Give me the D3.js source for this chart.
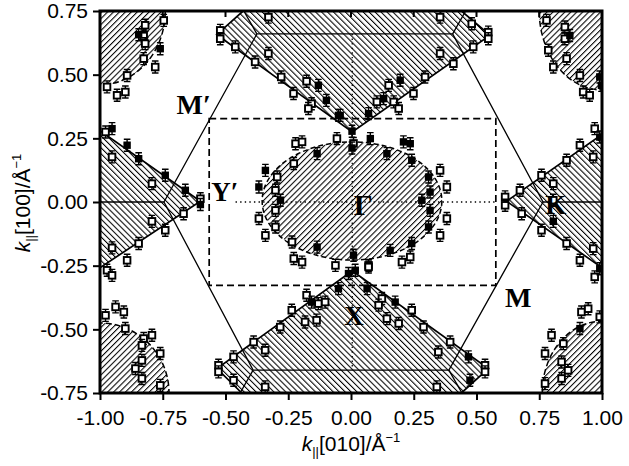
<!DOCTYPE html>
<html><head><meta charset="utf-8">
<script src="https://cdn.jsdelivr.net/npm/d3@7"></script>
<style>body{margin:0;background:#fff}svg{display:block}</style>
</head><body>
<svg id="c" width="629" height="466"></svg>
<script>
// ---- data (k-space, 1/Å) ----
const xTicks = [-1, -0.75, -0.5, -0.25, 0, 0.25, 0.5, 0.75, 1];
const yTicks = [-0.75, -0.5, -0.25, 0, 0.25, 0.5, 0.75];

// surface Brillouin-zone hexagon and outgoing edges
const hexagon = [[-0.375,0.66],[0.405,0.66],[0.765,0],[0.39,-0.66],[-0.39,-0.66],[-0.745,0]];
const hexSpurs = [
  [[-0.375,0.66],[-0.427,0.75]], [[0.405,0.66],[0.457,0.75]],
  [[0.765,0],[1,0]], [[-0.745,0],[-1,0]],
  [[-0.39,-0.66],[-0.442,-0.75]], [[0.39,-0.66],[0.442,-0.75]]
];
const dashRect = [[-0.565,0.327],[0.577,-0.327]];
const dotLines = [[[-0.46,0],[0.577,0]], [[0.005,0.66],[0.005,-0.66]]];

// hatched Fermi-surface regions
const topRegion = [[-0.43,0.75],[-0.535,0.657],[0.005,0.275],[0.554,0.655],[0.44,0.75]];
const bottomRegion = [[-0.435,-0.75],[-0.534,-0.654],[0.005,-0.27],[0.547,-0.654],[0.44,-0.75]];
const leftRegion = [[-1,0.28],[-0.60,0.003],[-1,-0.258]];
const rightRegion = [[1,0.265],[0.62,0.003],[1,-0.258]];
const centerEllipse = {cx:0.004, cy:0.004, rx:0.358, ry:0.232};
const cornerEllipses = [
  {cx:-1, cy:0.75, rx:0.26, ry:0.29},
  {cx:1, cy:0.75, rx:0.25, ry:0.31},
  {cx:-1, cy:-0.75, rx:0.275, ry:0.275},
  {cx:1, cy:-0.75, rx:0.238, ry:0.282}
];

// measured points
const openPts = [
  [-0.746,0.713],[-0.82,0.694],[-0.826,0.652],[-0.82,0.622],[-0.826,0.563],[-0.78,0.53],[-0.892,0.497],[-0.972,0.452],[-0.932,0.419],[-0.899,0.432],
  [-0.521,0.674],[-0.521,0.641],[-0.461,0.609],[-0.382,0.55],[-0.329,0.583],[-0.278,0.491],[-0.229,0.426],[-0.177,0.474],[-0.157,0.386],[-0.17,0.367],[-0.329,0.726],
  [0.355,0.726],[0.481,0.70],[0.547,0.667],[0.547,0.641],[0.487,0.609],[0.355,0.583],[0.408,0.543],[0.295,0.491],[0.249,0.426],[0.15,0.458],[0.103,0.393],[0.17,0.393],[0.19,0.367],
  [0.779,0.713],[0.852,0.687],[0.852,0.641],[0.786,0.596],[0.859,0.563],[0.806,0.53],[0.912,0.497],[0.925,0.432],[0.951,0.419],[0.971,0.288],
  [-0.978,0.275],[-0.952,0.177],[-0.793,0.072],[-0.60,0.013],[-0.667,-0.046],[-0.793,-0.076],[-0.74,-0.111],[-0.846,-0.163],[-0.952,-0.18],[-0.892,-0.229],[-0.972,-0.268],[-0.952,-0.288],
  [-0.221,0.229],[-0.195,0.236],[-0.228,0.151],[-0.056,0.249],[0.01,0.23],[0.355,0.124],[0.382,0.059],[0.382,-0.065],[0.355,-0.131],[0.236,-0.216],[0.203,-0.236],[0.07,-0.249],[-0.062,-0.249],
  [-0.228,-0.222],[-0.195,-0.236],[-0.235,-0.157],[-0.301,-0.098],[-0.341,-0.131],[-0.367,-0.065],[-0.301,-0.033],[-0.301,0.046],[-0.294,0.098],
  [0.912,0.223],[0.965,0.177],[0.859,0.164],[0.759,0.105],[0.806,0.072],[0.673,0.046],[0.614,0.02],[0.614,-0.013],[0.806,0.007],[0.68,-0.046],[0.759,-0.111],[0.859,-0.163],[0.965,-0.183],[0.912,-0.229],[0.971,-0.294],
  [-0.978,-0.445],[-0.938,-0.412],[-0.905,-0.432],[-0.899,-0.497],[-0.826,-0.536],[-0.793,-0.523],[-0.833,-0.563],[-0.76,-0.595],[-0.833,-0.622],[-0.859,-0.654],[-0.833,-0.693],[-0.76,-0.72],
  [-0.528,-0.641],[-0.528,-0.667],[-0.468,-0.608],[-0.468,-0.70],[-0.388,-0.55],[-0.342,-0.582],[-0.342,-0.726],[-0.282,-0.491],[-0.236,-0.425],[-0.177,-0.366],[-0.13,-0.399],[-0.103,-0.393],[-0.183,-0.471],[-0.137,-0.464],
  [0.07,-0.255],[0.123,-0.379],[0.11,-0.405],[0.143,-0.458],[0.19,-0.477],[0.242,-0.425],[0.289,-0.491],[0.395,-0.55],[0.348,-0.589],[0.534,-0.641],[0.534,-0.667],[0.342,-0.726],
  [0.918,-0.432],[0.945,-0.419],[0.991,-0.451],[0.799,-0.523],[0.846,-0.556],[0.773,-0.595],[0.839,-0.628],[0.865,-0.661],[0.839,-0.693],[0.773,-0.713]
];
const filledPts = [
  [-0.846,0.657],[-0.76,0.602],
  [-0.13,0.458],[-0.098,0.399],[-0.05,0.34],[0.196,0.478],[0.13,0.406],[0.07,0.347],[0.004,0.278],[-0.043,0.34],
  [0.872,0.654],[0.991,0.491],[0.998,0.458],
  [-0.952,0.288],[-0.892,0.223],[-0.846,0.17],[-0.74,0.105],[-0.66,0.046],[-0.60,-0.01],
  [-0.135,0.19],[0.004,0.212],[0.077,0.249],[0.209,0.236],[0.236,0.229],[0.143,0.19],[0.242,0.164],[0.309,0.098],[0.315,0.039],[0.282,0.007],[0.315,-0.033],[0.309,-0.098],[0.242,-0.163],[0.156,-0.19],[0.01,-0.209],[-0.135,-0.177],[-0.281,0.007],[-0.367,0.059],[-0.341,0.124],
  [0.991,0.255],[0.806,-0.076],[0.991,-0.262],
  [-0.157,-0.393],[-0.05,-0.34],[0.017,-0.268],[0.064,-0.34],[0.176,-0.393],[0.468,-0.608],[0.474,-0.70],[-0.01,-0.281],
  [0.912,-0.497]
];
const labels = [
  {t:"M\u2032", x:-0.627, y:0.344, size:28},
  {t:"Y\u2032", x:-0.503, y:0.003, size:27},
  {t:"\u0393", x:0.049, y:-0.052, size:30},
  {t:"K", x:0.816, y:-0.048, size:27},
  {t:"X", x:0.012, y:-0.484, size:27},
  {t:"M", x:0.666, y:-0.413, size:28}
];

// ---- drawing ----
const svg = d3.select("#c");
const x = d3.scaleLinear().domain([-1,1]).range([100,602]);
const y = d3.scaleLinear().domain([-0.75,0.75]).range([393,11]);
const P = d => [x(d[0]), y(d[1])];

const defs = svg.append("defs");
function hatch(id, angle){
  const p = defs.append("pattern").attr("id",id).attr("patternUnits","userSpaceOnUse")
    .attr("width",4.2).attr("height",4.2).attr("patternTransform",`rotate(${angle})`);
  p.append("line").attr("x1",0).attr("y1",-1).attr("x2",0).attr("y2",5.2)
    .attr("stroke","#000").attr("stroke-width",2.1);
}
hatch("hb",-45); // "\\\\"
hatch("hf",45);  // "////"
defs.append("clipPath").attr("id","clip").append("rect")
  .attr("x",x(-1)).attr("y",y(0.75)).attr("width",x(1)-x(-1)).attr("height",y(-0.75)-y(0.75));

const g = svg.append("g").attr("clip-path","url(#clip)");
const line = d3.line().x(d=>x(d[0])).y(d=>y(d[1]));

// hatched regions
[topRegion, bottomRegion, leftRegion, rightRegion].forEach(r=>{
  g.append("path").attr("d", line(r)+"Z").attr("fill","url(#hb)")
   .attr("stroke","#000").attr("stroke-width",1.7).attr("stroke-linejoin","miter");
});
cornerEllipses.forEach(e=>{
  g.append("ellipse").attr("cx",x(e.cx)).attr("cy",y(e.cy))
   .attr("rx",x(e.rx)-x(0)).attr("ry",y(0)-y(e.ry))
   .attr("fill","url(#hf)").attr("stroke","#000").attr("stroke-width",1.5).attr("stroke-dasharray","6,3");
});
g.append("ellipse").attr("cx",x(centerEllipse.cx)).attr("cy",y(centerEllipse.cy))
  .attr("rx",x(centerEllipse.rx)-x(0)).attr("ry",y(0)-y(centerEllipse.ry))
  .attr("fill","url(#hf)").attr("stroke","#000").attr("stroke-width",1.5).attr("stroke-dasharray","5,3");

// zone lines
g.append("path").attr("d", line(hexagon)+"Z").attr("fill","none").attr("stroke","#000").attr("stroke-width",1.3);
hexSpurs.forEach(s=> g.append("path").attr("d",line(s)).attr("fill","none").attr("stroke","#000").attr("stroke-width",1.3));
g.append("rect").attr("x",x(dashRect[0][0])).attr("y",y(dashRect[0][1]))
  .attr("width",x(dashRect[1][0])-x(dashRect[0][0])).attr("height",y(dashRect[1][1])-y(dashRect[0][1]))
  .attr("fill","none").attr("stroke","#000").attr("stroke-width",1.7).attr("stroke-dasharray","7,4");
dotLines.forEach(s=> g.append("path").attr("d",line(s)).attr("fill","none").attr("stroke","#000")
  .attr("stroke-width",1.3).attr("stroke-dasharray","1.4,3.2"));

// markers
function errbar(sel){
  sel.append("path").attr("d","M0,-6V6M-3.3,-6H3.3M-3.3,6H3.3").attr("stroke","#000").attr("stroke-width",1.4).attr("fill","none");
}
const om = g.selectAll(".o").data(openPts).enter().append("g").attr("transform",d=>`translate(${P(d)})`);
errbar(om);
om.append("rect").attr("x",-3.3).attr("y",-3.3).attr("width",6.6).attr("height",6.6)
  .attr("fill","#fff").attr("stroke","#000").attr("stroke-width",1.9);
const fm = g.selectAll(".f").data(filledPts).enter().append("g").attr("transform",d=>`translate(${P(d)})`);
errbar(fm);
fm.append("rect").attr("x",-3.7).attr("y",-3.7).attr("width",7.4).attr("height",7.4).attr("fill","#000");

// labels
svg.selectAll(".lab").data(labels).enter().append("text")
  .attr("x",d=>x(d.x)).attr("y",d=>y(d.y)).attr("text-anchor","middle")
  .attr("font-family","'Liberation Serif','Times New Roman',serif")
  .attr("font-weight","bold").attr("font-size",d=>d.size).text(d=>d.t);

// axes
const fmt = d => d.toFixed(2);
const ax = svg.append("g").attr("transform",`translate(0,${y(-0.75)})`)
  .call(d3.axisBottom(x).tickValues(xTicks).tickFormat(fmt).tickSize(7).tickPadding(10));
const ay = svg.append("g").attr("transform",`translate(${x(-1)},0)`)
  .call(d3.axisLeft(y).tickValues(yTicks).tickFormat(fmt).tickSize(7).tickPadding(5));
[ax,ay].forEach(a=>{
  a.select(".domain").remove();
  a.selectAll(".tick line").attr("stroke","#000").attr("stroke-width",2);
  a.selectAll("text").attr("font-family","'Liberation Sans',Arial,sans-serif").attr("font-size",21).attr("fill","#000");
});
// top inward ticks
svg.append("g").selectAll("line").data(xTicks.slice(1,-1)).enter().append("line")
  .attr("x1",d=>x(d)).attr("x2",d=>x(d)).attr("y1",y(0.75)).attr("y2",y(0.75)+6)
  .attr("stroke","#000").attr("stroke-width",2);
// frame
svg.append("rect").attr("x",x(-1)).attr("y",y(0.75)).attr("width",x(1)-x(-1)).attr("height",y(-0.75)-y(0.75))
  .attr("fill","none").attr("stroke","#000").attr("stroke-width",3);

// axis titles
function title(sel, idx){
  sel.attr("font-family","'Liberation Sans',Arial,sans-serif").attr("font-size",21).attr("fill","#000");
  sel.append("tspan").attr("font-style","italic").text("k");
  sel.append("tspan").attr("font-size",13).attr("dy",5).text("||");
  sel.append("tspan").attr("dy",-5).text(`[${idx}]/Å`);
  sel.append("tspan").attr("font-size",13).attr("dy",-9).text("\u22121");
}
title(svg.append("text").attr("x",351).attr("y",451).attr("text-anchor","middle"), "010");
title(svg.append("text").attr("transform","translate(30,203) rotate(-90)").attr("text-anchor","middle"), "100");
</script>
</body></html>
